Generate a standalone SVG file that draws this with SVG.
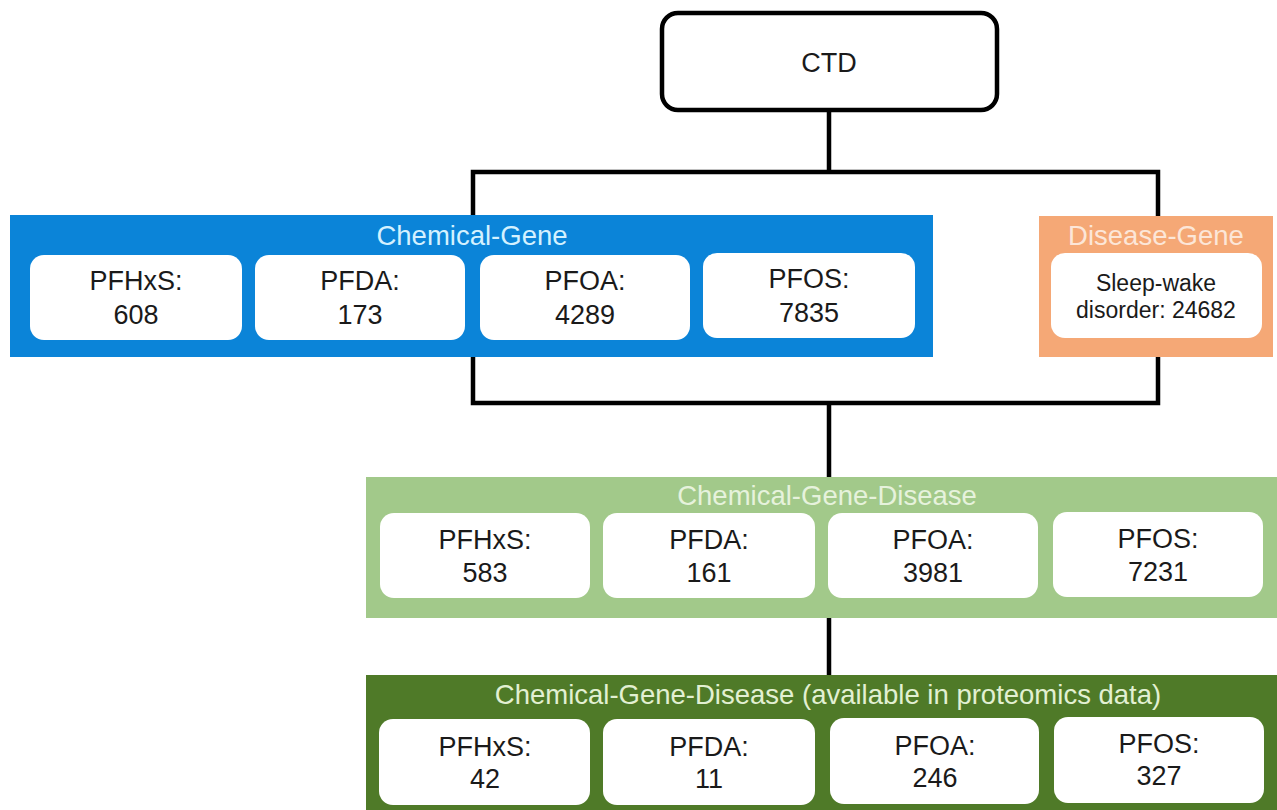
<svg xmlns="http://www.w3.org/2000/svg" width="1277" height="810" viewBox="0 0 1277 810">
<style>
.card{fill:#FFFFFF;}
.lbl{font-family:"Liberation Sans",Arial,sans-serif;font-size:27px;fill:#1a1a1a;text-anchor:middle;}
.ttl{font-family:"Liberation Sans",Arial,sans-serif;font-size:27.5px;text-anchor:middle;}
.conn{fill:none;stroke:#000;stroke-width:4.5;stroke-linejoin:miter;stroke-linecap:square;}
</style>
<rect width="1277" height="810" fill="#FFFFFF"/>
<g id="connectors">
<path class="conn" d="M829 110 V172 M473 215 V172 H1158 V215"/>
<path class="conn" d="M473 357 V403 H1158 V357 M829 403 V477"/>
<path class="conn" d="M829 618 V675"/>
</g>
<g id="ctd">
<rect x="662" y="13" width="335" height="97" rx="16" fill="#FFFFFF" stroke="#000" stroke-width="4.5"/>
<text class="lbl" x="829" y="72">CTD</text>
</g>
<g id="chemical-gene">
<rect x="10" y="215" width="923" height="142" fill="#0B84D8"/>
<text class="ttl" x="472" y="245" fill="#D4F1FF">Chemical-Gene</text>
<rect class="card" x="30" y="255" width="212" height="85" rx="14"/>
<text class="lbl" x="136" y="290">PFHxS:</text><text class="lbl" x="136" y="324">608</text>
<rect class="card" x="255" y="255" width="210" height="85" rx="14"/>
<text class="lbl" x="360" y="290">PFDA:</text><text class="lbl" x="360" y="324">173</text>
<rect class="card" x="480" y="255" width="210" height="85" rx="14"/>
<text class="lbl" x="585" y="290">PFOA:</text><text class="lbl" x="585" y="324">4289</text>
<rect class="card" x="703" y="253" width="212" height="85" rx="14"/>
<text class="lbl" x="809" y="288">PFOS:</text><text class="lbl" x="809" y="322">7835</text>
</g>
<g id="disease-gene">
<rect x="1039" y="216" width="234" height="141" fill="#F5A876"/>
<text class="ttl" x="1156" y="245" fill="#FCE6D8">Disease-Gene</text>
<rect class="card" x="1051" y="253" width="211" height="85" rx="14"/>
<text class="lbl" x="1156" y="291" style="font-size:23px">Sleep-wake</text>
<text class="lbl" x="1156" y="318" style="font-size:23px">disorder: 24682</text>
</g>
<g id="chemical-gene-disease">
<rect x="366" y="477" width="911" height="141" fill="#A2C98A"/>
<text class="ttl" x="827" y="505" fill="#E6F2DC">Chemical-Gene-Disease</text>
<rect class="card" x="380" y="513" width="210" height="85" rx="14"/>
<text class="lbl" x="485" y="549">PFHxS:</text><text class="lbl" x="485" y="582">583</text>
<rect class="card" x="603" y="513" width="212" height="85" rx="14"/>
<text class="lbl" x="709" y="549">PFDA:</text><text class="lbl" x="709" y="582">161</text>
<rect class="card" x="828" y="513" width="210" height="85" rx="14"/>
<text class="lbl" x="933" y="549">PFOA:</text><text class="lbl" x="933" y="582">3981</text>
<rect class="card" x="1053" y="512" width="210" height="85" rx="14"/>
<text class="lbl" x="1158" y="548">PFOS:</text><text class="lbl" x="1158" y="581">7231</text>
</g>
<g id="chemical-gene-disease-proteomics">
<rect x="366" y="675" width="911" height="135" fill="#4F7A28"/>
<text class="ttl" x="828" y="704" fill="#E2F0D2">Chemical-Gene-Disease (available in proteomics data)</text>
<rect class="card" x="379" y="719" width="211" height="86" rx="14"/>
<text class="lbl" x="485" y="756">PFHxS:</text><text class="lbl" x="485" y="788">42</text>
<rect class="card" x="603" y="719" width="212" height="86" rx="14"/>
<text class="lbl" x="709" y="756">PFDA:</text><text class="lbl" x="709" y="788">11</text>
<rect class="card" x="830" y="718" width="209" height="86" rx="14"/>
<text class="lbl" x="935" y="755">PFOA:</text><text class="lbl" x="935" y="787">246</text>
<rect class="card" x="1054" y="717" width="210" height="86" rx="14"/>
<text class="lbl" x="1159" y="753">PFOS:</text><text class="lbl" x="1159" y="785">327</text>
</g>
</svg>
